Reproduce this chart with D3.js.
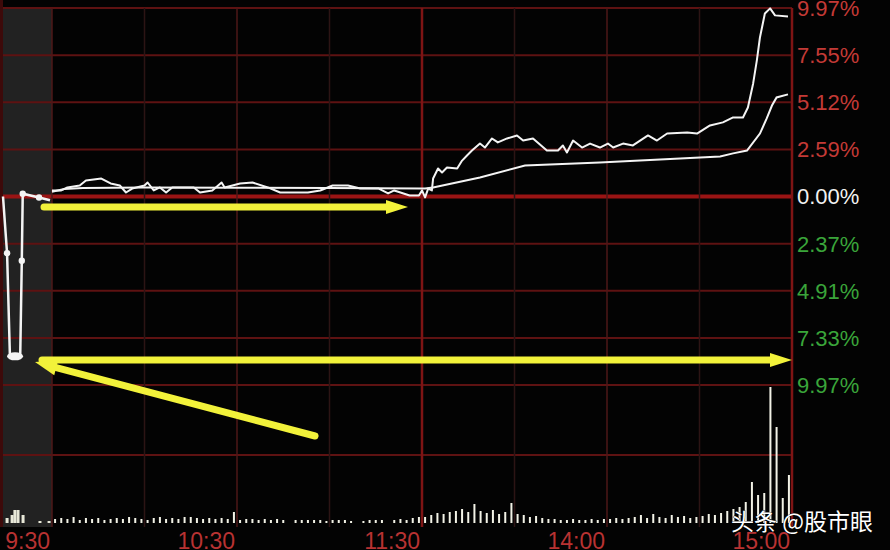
<!DOCTYPE html>
<html><head><meta charset="utf-8">
<script src="https://cdn.jsdelivr.net/npm/d3@7"></script>
<style>html,body{margin:0;padding:0;background:#000;overflow:hidden}</style>
</head><body>
<svg id="c" width="890" height="550"></svg>
<script>
// ---- data ----
const priceTickLabels = ["9.97%","7.55%","5.12%","2.59%","0.00%","2.37%","4.91%","7.33%","9.97%"];
const timeLabels = ["9:30","10:30","11:30","14:00","15:00"];
const timeLabelMinutes = [0,60,120,180,240];

// call auction (minutes after 9:15), % change
const auctionT   = [0, 1.3, 2.2, 5.5, 6.0, 6.3, 11.5, 15];
const auctionPct = [0, -3.0, -8.4, -8.4, -3.4, 0.15, -0.05, -0.2];
const auctionDotsT = [1.3, 6.0, 6.3, 11.5];

// trading minutes after 9:30 (0..240), price % change
const priceMin = [0,3,5,9,11,16,19,22,24,26,30,31,33,35,37,39,46,48,52,55,56,61,65,70,74,83,87,91,96,100,106,109,111,116,119,120,
  121,122,123.2,123.6,125.2,126.5,128.1,131.4,133,134.6,136.2,138.8,140.4,142.7,144.6,147.6,150.8,152.8,156,160.5,164.1,165.7,167,169,171.9,174.5,177.7,180.3,182,185.2,188.4,193.3,196.2,199.5,206,209.2,213.4,217.6,220.9,224.1,225.7,227.4,228.6,229.6,231.2,232.9,234.5,238.7];
const pricePct = [0.32,0.32,0.48,0.58,0.85,0.95,0.69,0.58,0.21,0.42,0.58,0.74,0.32,0.48,0.21,0.48,0.48,0.21,0.32,0.74,0.48,0.69,0.74,0.48,0.21,0.21,0.32,0.58,0.58,0.42,0.42,0.16,0.32,0.05,0.05,0.32,
  -0.05,0.42,0.32,0.95,1.48,1.27,1.53,1.48,1.90,2.17,2.43,2.80,2.59,3.07,2.86,3.07,3.23,2.96,3.07,2.43,2.43,2.70,2.33,2.96,2.59,2.80,2.59,2.80,2.59,2.80,2.70,3.23,2.96,3.33,3.39,3.33,3.76,3.92,4.18,4.18,4.71,5.98,7.20,8.41,9.68,9.95,9.58,9.52];

// average price line
const avgMin = [0,4,10,30,60,90,120,121,123.6,138.8,153.4,177.7,203.7,216.7,220.9,225.4,229.6,231.8,233.5,235,238.7];
const avgPct = [0.25,0.40,0.45,0.48,0.46,0.45,0.42,0.42,0.48,1.01,1.64,1.80,2.01,2.12,2.28,2.43,3.33,4.13,4.81,5.24,5.40];

// volume, 2-minute bins from 9:30
const volBins = [4,5,4,6,3,5,4,5,3,4, 5,4,6,5,4,3,5,6,4,5, 4,6,6,5,4,5,4,5,4,11, 3,4,4,3,4,3,4,3,0,3,
  3,3,3,3,2,3,3,3,2,0, 2,3,3,3,0,3,4,3,5,6, 6,8,10,9,11,12,14,11,19,12, 10,13,9,11,20,9,8,6,7,5,
  4,4,3,3,4,3,3,4,3,4, 4,5,4,5,6,8,5,9,6,5, 8,6,7,5,6,7,9,8,10,12, 14,16,21,41,28,30,136,96,25,48];
const auctionVolT = [1.3,2.9,3.8,4.8,6.4,11.8,14.7];
const auctionVol  = [5,8,13,13,8,2,2];

// ---- drawing ----
const svg = d3.select("#c");
const W = 890, H = 550;
const x  = d3.scaleLinear().domain([0,240]).range([52,792]);
const xa = d3.scaleLinear().domain([0,15]).range([3,50]);
const y  = d3.scaleLinear().domain([-9.97,9.97]).range([385,8]);
const yv = d3.scaleLinear().domain([0,136]).range([523,387]);

svg.append("rect").attr("width",W).attr("height",H).attr("fill","#030303");
svg.append("rect").attr("x",3).attr("y",8).attr("width",49).attr("height",519).attr("fill","#222222");
svg.append("rect").attr("x",0).attr("y",0).attr("width",3).attr("height",527).attr("fill","#3d0a0a");

const g = svg.append("g");
// horizontal grid (price)
const tickVals = d3.range(9).map(i => y.domain()[1] - i*(y.domain()[1]-y.domain()[0])/8);
tickVals.forEach((v,i)=>{
  const zero = i===4;
  g.append("line").attr("x1",3).attr("x2",792).attr("y1",y(v)).attr("y2",y(v))
    .attr("stroke", zero ? "#9a1414" : "#5e1212").attr("stroke-width", zero?4:2);
});
// volume grid
[68].forEach(v=>{
  g.append("line").attr("x1",3).attr("x2",792).attr("y1",yv(v)).attr("y2",yv(v))
   .attr("stroke","#5e1212").attr("stroke-width",2);
});
// vertical grid
const vMajor = [0,60,180];
const vMinor = [30,90,150,210];
vMinor.forEach(m=>g.append("line").attr("x1",x(m)).attr("x2",x(m)).attr("y1",8).attr("y2",527)
  .attr("stroke","#2c1414").attr("stroke-width",1.5));
vMajor.forEach(m=>g.append("line").attr("x1",x(m)).attr("x2",x(m)).attr("y1",8).attr("y2",527)
  .attr("stroke","#4e1818").attr("stroke-width",1.5));
[120,240].forEach(m=>g.append("line").attr("x1",x(m)).attr("x2",x(m)).attr("y1",8).attr("y2",527)
  .attr("stroke","#7e1414").attr("stroke-width",2.5));

// volume bars
const bw = 2;
g.selectAll(".vb").data(volBins).enter().append("rect")
  .attr("x",(d,i)=>x(2*i+1)-bw/2).attr("y",d=>yv(d)).attr("width",bw).attr("height",d=>yv(0)-yv(d))
  .attr("fill","#f2f2e6");
g.selectAll(".va").data(auctionVol).enter().append("rect")
  .attr("x",(d,i)=>xa(auctionVolT[i])-1.5).attr("y",d=>yv(d)).attr("width",3).attr("height",d=>yv(0)-yv(d))
  .attr("fill","#e8e8d8");

// lines
const line = d3.line().x(d=>x(d[0])).y(d=>y(d[1]));
const lineA = d3.line().x(d=>xa(d[0])).y(d=>y(d[1]));
g.append("path").datum(avgMin.map((m,i)=>[m,avgPct[i]])).attr("d",line)
  .attr("fill","none").attr("stroke","#f4f4f4").attr("stroke-width",2);
g.append("path").datum(priceMin.map((m,i)=>[m,pricePct[i]])).attr("d",line)
  .attr("fill","none").attr("stroke","#f4f4f4").attr("stroke-width",2).attr("stroke-linejoin","round");
g.append("path").datum(auctionT.map((t,i)=>[t,auctionPct[i]])).attr("d",lineA)
  .attr("fill","none").attr("stroke","#f4f4f4").attr("stroke-width",2.5);
auctionDotsT.forEach(t=>{
  const i = auctionT.indexOf(t);
  g.append("circle").attr("cx",xa(t)).attr("cy",y(auctionPct[i])).attr("r",3.2).attr("fill","#f4f4f4");
});
g.append("ellipse").attr("cx",(xa(2.2)+xa(5.5))/2).attr("cy",y(-8.4)+1).attr("rx",8).attr("ry",4).attr("fill","#f4f4f4");

// yellow arrows
const yel = "#f2f23a";
function arrow(x1,y1,x2,y2,hl,hw){
  const a = Math.atan2(y2-y1,x2-x1);
  const bx = x2 - hl*Math.cos(a), by = y2 - hl*Math.sin(a);
  g.append("line").attr("x1",x1).attr("y1",y1).attr("x2",bx).attr("y2",by)
    .attr("stroke",yel).attr("stroke-width",7).attr("stroke-linecap","round");
  const px = -Math.sin(a)*hw, py = Math.cos(a)*hw;
  g.append("path").attr("d",`M${x2},${y2}L${bx+px},${by+py}L${bx-px},${by-py}Z`).attr("fill",yel);
}
arrow(44,207,408,207,22,7);
arrow(42,360,792,360,22,7);
arrow(315,436,35,362,22,8);

// right axis labels
const labColors = ["#c33a36","#c33a36","#c33a36","#c33a36","#f2f2f2","#3aa53a","#3aa53a","#3aa53a","#3aa53a"];
tickVals.forEach((v,i)=>{
  svg.append("text").attr("x",797).attr("y",y(v)).attr("dy","0.36em")
   .attr("font-family","Liberation Sans, Arial, sans-serif").attr("font-size",22)
   .attr("fill",labColors[i]).text(priceTickLabels[i]);
});
// time labels
timeLabels.forEach((t,i)=>{
  svg.append("text").attr("x",x(timeLabelMinutes[i])-2).attr("y",549).attr("text-anchor","end")
   .attr("font-family","Liberation Sans, Arial, sans-serif").attr("font-size",23)
   .attr("fill","#b83232").text(t);
});
// watermark
svg.append("text").attr("x",731).attr("y",530)
  .attr("font-family","Noto Sans CJK SC, sans-serif").attr("font-size",23)
  .attr("fill","#ffffff").attr("stroke","#000").attr("stroke-width",0.6).attr("paint-order","stroke")
  .text("头条 @股市眼");
</script>
</body></html>
